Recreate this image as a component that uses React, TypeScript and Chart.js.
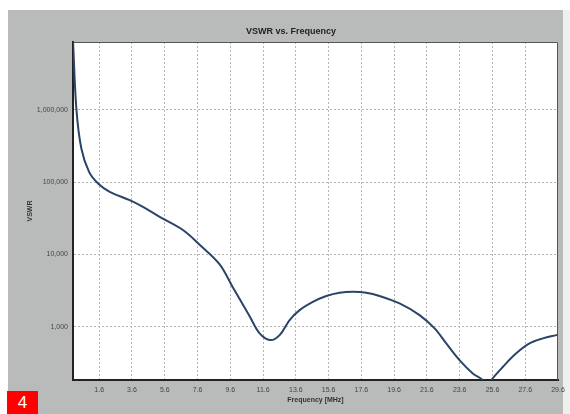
import React, { useEffect, useRef } from "react";
import { Chart, registerables } from "chart.js";

Chart.register(...registerables);

// Frequency in MHz
const frequencies = [
  0.0, 0.21, 0.51, 0.98, 1.53, 2.24, 3.46, 4.27, 5.29, 6.71, 7.73, 8.95, 9.76,
  10.78, 11.39, 12.04, 12.61, 13.22, 13.83, 14.64, 15.46, 16.27, 17.08, 17.9,
  18.71, 19.93, 21.15, 22.07, 22.78, 23.59, 24.4, 25.01, 25.3, 25.53, 26.24,
  27.05, 27.86, 28.68, 29.49, 29.6,
];
// VSWR values
const vswr = [
  9000000, 1000000, 291000, 138000, 95500, 73300, 56200, 45400, 33000, 21700,
  13600, 7300, 3500, 1400, 811, 655, 767, 1238, 1700, 2210, 2660, 2950, 3040,
  2950, 2660, 2100, 1450, 950, 590, 347, 227, 184, 150, 184, 280, 430, 590, 692,
  767, 775,
];
const xTicks = [1.6, 3.6, 5.6, 7.6, 9.6, 11.6, 13.6, 15.6, 17.6, 19.6, 21.6, 23.6, 25.6, 27.6, 29.6];
const yTicks = [1000, 10000, 100000, 1000000];
const titleText = "VSWR vs. Frequency";
const xTitle = "Frequency [MHz]";
const yTitle = "VSWR";

const GRAY = "#b9bbba";
const FONT = "'Liberation Sans', Arial, sans-serif";

export default function App() {
  const ref = useRef<HTMLCanvasElement | null>(null);

  useEffect(() => {
    document.body.style.overflow = "hidden";
    const canvas = ref.current;
    if (!canvas) return;
    const bgPlugin = {
      id: "bg",
      beforeDraw(chart: any) {
        const { ctx, chartArea: a } = chart;
        ctx.save();
        ctx.fillStyle = "#eef0ef";
        ctx.fillRect(0, 0, chart.width, chart.height);
        ctx.fillStyle = GRAY;
        ctx.fillRect(0, 0, 555, chart.height);
        ctx.fillStyle = "#ffffff";
        ctx.fillRect(a.left, a.top, a.right - a.left, a.bottom - a.top);
        ctx.restore();
      },
      afterDraw(chart: any) {
        const { ctx, chartArea: a } = chart;
        ctx.save();
        ctx.strokeStyle = "#555";
        ctx.lineWidth = 1;
        ctx.beginPath();
        ctx.moveTo(a.left, a.top + 0.5);
        ctx.lineTo(a.right - 0.5, a.top + 0.5);
        ctx.lineTo(a.right - 0.5, a.bottom);
        ctx.stroke();
        ctx.restore();
      },
    };

    const chart = new Chart(canvas, {
      type: "line",
      data: {
        datasets: [
          {
            data: frequencies.map((f, i) => ({ x: f, y: vswr[i] })),
            borderColor: "#2b4468",
            borderWidth: 2,
            pointRadius: 0,
            tension: 0.35,
            fill: false,
          },
        ],
      },
      options: {
        animation: false,
        responsive: false,
        maintainAspectRatio: false,
        layout: { padding: { left: 16, right: 12, top: 0, bottom: 0 } },
        plugins: {
          legend: { display: false },
          tooltip: { enabled: false },
          title: {
            display: true,
            text: titleText,
            color: "#222",
            font: { family: FONT, size: 9, weight: "bold" },
            padding: { top: 16, bottom: 5.2 },
          },
        },
        scales: {
          x: {
            type: "linear",
            min: 0,
            max: 29.6,
            afterBuildTicks: (scale: any) => {
              scale.ticks = xTicks.map((v) => ({ value: v }));
            },
            afterFit: (scale: any) => {
              scale.height = 34;
              scale.paddingLeft = 0;
              scale.paddingRight = 0;
            },
            grid: { color: "#b4b4b4", lineWidth: 1, drawTicks: false },
            border: { display: true, color: "#222", width: 2, dash: [2, 2] },
            ticks: {
              padding: 6,
              color: "#444",
              maxRotation: 0,
              autoSkip: false,
              font: { family: FONT, size: 7 },
              callback: (v: any) => Number(v).toFixed(1),
            },
            title: {
              display: true,
              text: xTitle,
              color: "#333",
              font: { family: FONT, size: 7, weight: "bold" },
              padding: { top: 0, bottom: 10 },
            },
          },
          y: {
            type: "logarithmic",
            min: 184,
            max: 8600000,
            afterBuildTicks: (scale: any) => {
              scale.ticks = yTicks.map((v) => ({ value: v, major: true }));
            },
            afterFit: (scale: any) => {
              scale.width = 49;
              scale.paddingTop = 0;
              scale.paddingBottom = 0;
            },
            grid: { color: "#b4b4b4", lineWidth: 1, drawTicks: false },
            border: { display: true, color: "#222", width: 2, dash: [2, 2] },
            ticks: {
              padding: 5,
              color: "#444",
              autoSkip: false,
              font: { family: FONT, size: 7 },
              callback: (v: any) => Number(v).toLocaleString("en-US"),
            },
            title: {
              display: true,
              text: yTitle,
              color: "#333",
              font: { family: FONT, size: 7, weight: "bold" },
              padding: { top: 2, bottom: 0 },
            },
          },
        },
      },
      plugins: [bgPlugin],
    } as any);
    return () => chart.destroy();
  }, []);

  return (
    <div style={{ position: "absolute", left: 8, top: 10, width: 562, height: 404 }}>
      <canvas ref={ref} width={562} height={404} style={{ display: "block", width: 562, height: 404 }} />
      <div
        style={{
          position: "absolute",
          left: -1,
          top: 381,
          width: 31,
          height: 23,
          background: "#ff0000",
          color: "#ffffff",
          fontFamily: FONT,
          fontSize: 17,
          lineHeight: "23px",
          textAlign: "center",
        }}
      >
        4
      </div>
    </div>
  );
}
